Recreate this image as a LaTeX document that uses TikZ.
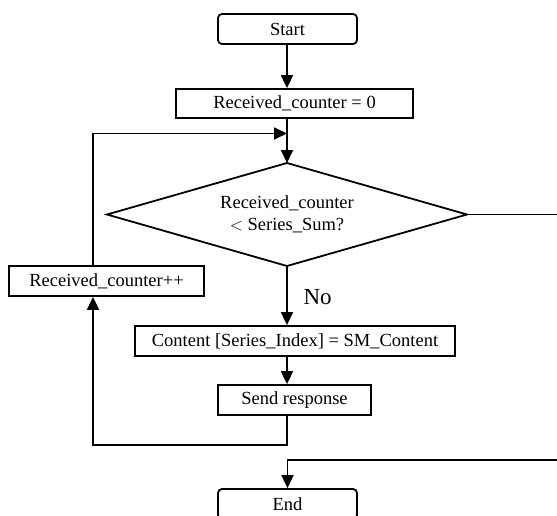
\documentclass[tikz,border=0pt]{standalone}
\usepackage{fontspec}
\setmainfont{Liberation Serif}
\usetikzlibrary{shapes.geometric,arrows.meta,calc}
\begin{document}
\begin{tikzpicture}[x=1pt,y=-1pt,
  every node/.style={font=\fontsize{18.5}{21}\selectfont},
  box/.style={draw,line width=1.8pt,inner sep=0pt,minimum height=30pt},
  term/.style={box,rounded corners=4pt},
  conn/.style={line width=1.8pt},
  arr/.style={conn,-{Triangle[width=12pt,length=13pt]}}]
\useasboundingbox (0,0) rectangle (557,515);
\clip (0,0) rectangle (557,515);
\node[term,minimum width=139pt] (start) at (287.5,29) {Start};
\node[box,minimum width=237pt,minimum height=29pt] (init) at (294.5,103.5) {Received\_counter = 0};
\coordinate (dtop) at (287,163);
\coordinate (dright) at (467,214.5);
\coordinate (dbot) at (287,266);
\coordinate (dleft) at (107,214.5);
\draw[conn,line join=miter] (dtop) -- (dright) -- (dbot) -- (dleft) -- cycle;
\node[align=center] (cond) at (287,214.5) {Received\_counter\\[1pt]$<$ Series\_Sum?};
\node[box,minimum width=195pt] (inc) at (106.5,281) {Received\_counter++};
\node[box,minimum width=320pt] (content) at (295,341) {Content [Series\_Index] = SM\_Content};
\node[box,minimum width=153pt] (send) at (294.5,400) {Send response};
\node[term,minimum width=139pt] (end) at (287.5,504) {End};
\node[font=\fontsize{23}{26}\selectfont,anchor=west] (no) at (300,297) {No};
\coordinate (merge) at (287,133.5);
\coordinate (left) at (93,133.5);
\coordinate (bot) at (93,445);
\coordinate (edgeA) at (562,214.5);
\coordinate (edgeB) at (562,460);
\draw[arr] (start.south -| dtop) -- (init.north -| dtop);
\draw[arr] (init.south -| dtop) -- (dtop);
\draw[arr] (inc.north -| left) -- (left) -- (merge);
\draw[arr] (dbot) -- (content.north -| dbot);
\draw[arr] (content.south -| dbot) -- (send.north -| dbot);
\draw[arr] (send.south -| dbot) |- (bot) -- (inc.south -| bot);
\draw[arr] (dright) -- (edgeA) -- (edgeB) -| (end.north);
\end{tikzpicture}
\end{document}
